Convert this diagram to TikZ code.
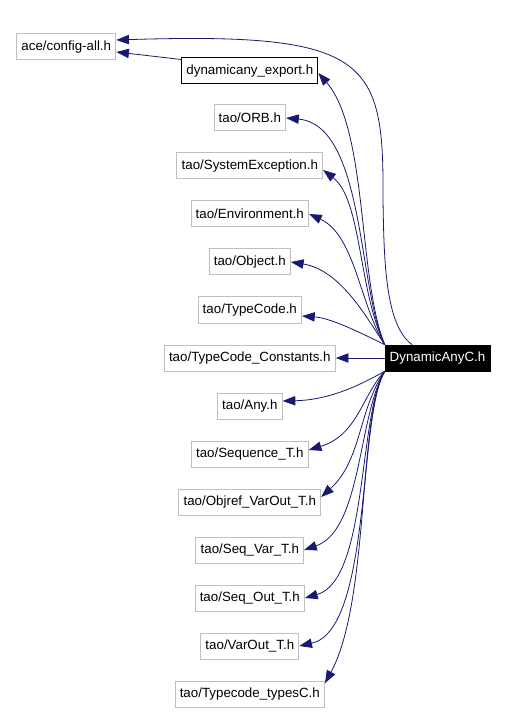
\documentclass[tikz,border=0pt]{standalone}
\usepackage{fontspec}
\setmainfont{Liberation Sans}
\usepackage{tikz}
\usetikzlibrary{arrows.meta,positioning}
\definecolor{edgeblue}{HTML}{191970}
\definecolor{boxgray}{HTML}{BFBFBF}

\begin{document}
\begin{tikzpicture}[
  x=0.75pt, y=0.75pt,
  font=\fontsize{10pt}{12pt}\selectfont,
  box/.style={draw=boxgray, line width=0.75pt, minimum height=19.5pt,
              inner xsep=3.5pt, inner ysep=0pt},
  cur/.style={draw=black, line width=0.75pt, minimum height=19.5pt,
              inner xsep=3.5pt, inner ysep=0pt},
  root/.style={draw=black, fill=black, text=white, minimum height=19.5pt,
               inner xsep=3.5pt, inner ysep=0pt},
  dep/.style={->, draw=edgeblue, line width=0.6pt},
  >={Triangle[length=9.5pt,width=7pt]},
  node distance=15.75pt
]
\useasboundingbox (0,0) rectangle (507,-712);

\node[root] (dac) at (437.5,-358) {DynamicAnyC.h};
\node[box, left=36.75pt of dac] (tcc) {tao/TypeCode\_Constants.h};

% headers above
\node[box, above=of tcc] (tcode) {tao/TypeCode.h};
\node[box, above=of tcode] (obj) {tao/Object.h};
\node[box, above=of obj] (env) {tao/Environment.h};
\node[box, above=of env] (sysex) {tao/SystemException.h};
\node[box, above=of sysex] (orb) {tao/ORB.h};
\node[cur, above=15pt of orb] (dyn) {dynamicany\_export.h};
\node[box, left=48.75pt of dyn, yshift=18pt] (ace) {ace/config-all.h};

% headers below
\node[box, below=of tcc] (any) {tao/Any.h};
\node[box, below=of any] (seqt) {tao/Sequence\_T.h};
\node[box, below=of seqt] (objref) {tao/Objref\_VarOut\_T.h};
\node[box, below=of objref] (seqvar) {tao/Seq\_Var\_T.h};
\node[box, below=of seqvar] (seqout) {tao/Seq\_Out\_T.h};
\node[box, below=of seqout] (varout) {tao/VarOut\_T.h};
\node[box, below=of varout] (tct) {tao/Typecode\_typesC.h};

% includes
\draw[dep] ([xshift=-19pt]dac.north) .. controls (385,-325) and (384,-260) .. (383,-200)
  .. controls (384,-60) and (370,-32) .. ([yshift=5.25pt]ace.east);
\draw[dep] ([yshift=-1.5pt]dyn.north west) -- ([yshift=-3.75pt]ace.east);
\draw[dep] (dac.north west) .. controls (358,-280) and (368,-130) .. ([yshift=-1.5pt]dyn.east);
\draw[dep] (dac.north west) .. controls (358,-290) and (365,-125) .. (orb.east);
\draw[dep] (dac.north west) .. controls (358,-290) and (362,-200) .. ([yshift=-3pt]sysex.east);
\draw[dep] (dac.north west) .. controls (360,-305) and (355,-235) .. (env.east);
\draw[dep] (dac.north west) .. controls (365,-315) and (340,-270) .. (obj.east);
\draw[dep] (dac.north west) .. controls (355,-330) and (330,-318) .. ([yshift=-4.5pt]tcode.east);
\draw[dep] (dac.west) -- (tcc.east);
\draw[dep] (dac.south west) .. controls (360,-385) and (330,-400) .. ([yshift=3.75pt]any.east);
\draw[dep] (dac.south west) .. controls (362,-395) and (358,-435) .. ([yshift=3pt]seqt.east);
\draw[dep] (dac.south west) .. controls (358,-410) and (362,-460) .. ([yshift=3.75pt]objref.east);
\draw[dep] (dac.south west) .. controls (358,-415) and (362,-530) .. (seqvar.east);
\draw[dep] (dac.south west) .. controls (358,-415) and (368,-580) .. (seqout.east);
\draw[dep] (dac.south west) .. controls (358,-415) and (372,-630) .. (varout.east);
\draw[dep] (dac.south west) .. controls (358,-415) and (370,-600) .. ([yshift=-2pt]tct.north east);
\end{tikzpicture}
\end{document}
